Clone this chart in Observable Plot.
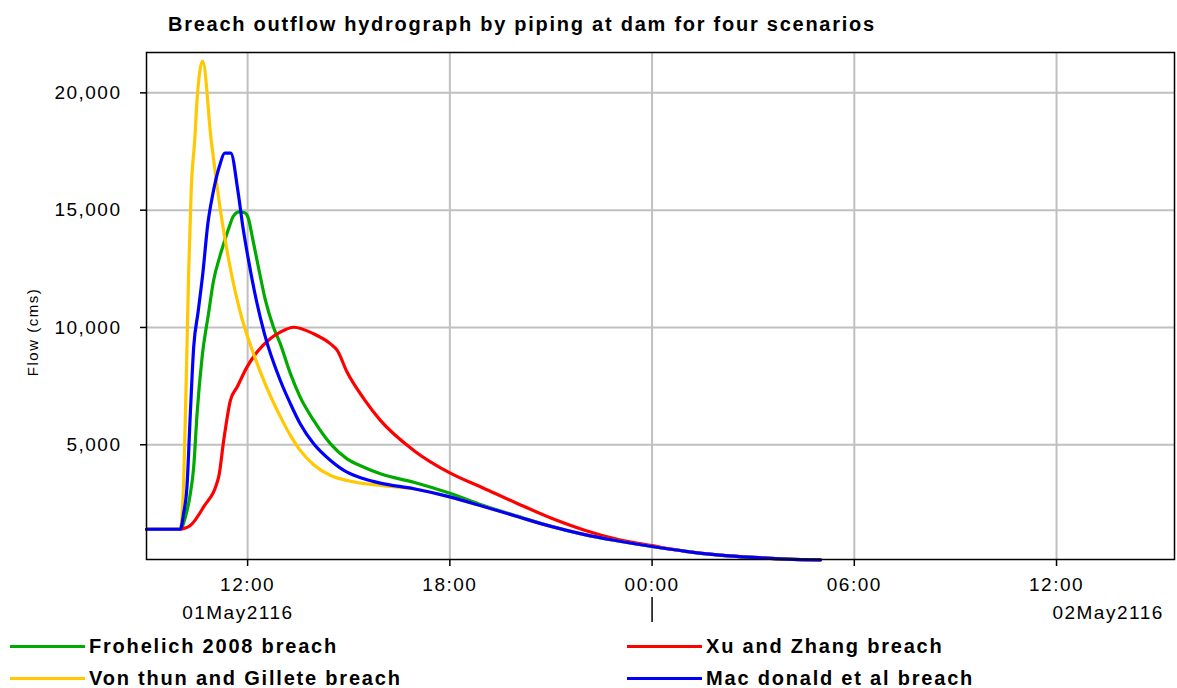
<!DOCTYPE html>
<html>
<head>
<meta charset="utf-8">
<script src="https://cdn.jsdelivr.net/npm/d3@7"></script>
<script src="https://cdn.jsdelivr.net/npm/@observablehq/plot@0.6"></script>
<style>
  html, body { margin: 0; padding: 0; background: #fff; }
  body { font-family: "Liberation Sans", Arial, sans-serif; color: #000; width: 1177px; height: 688px; overflow: hidden; }
  #title { position: relative; height: 44px; }
  #title span { position: absolute; left: 168px; top: 14px; font-weight: bold; font-size: 20px; line-height: 20px; letter-spacing: 1.75px; white-space: nowrap; }
  #chart svg { display: block; }
  #chart svg text { letter-spacing: 1.5px; }
  #legend { position: relative; height: 54px; }
  .item { position: absolute; }
  .item .swatch { position: absolute; width: 75px; height: 3px; }
  .item .lab { position: absolute; white-space: nowrap; font-weight: bold; font-size: 20px; line-height: 20px; letter-spacing: 1.8px; }
</style>
</head>
<body>
<div id="title"><span>Breach outflow hydrograph by piping at dam for four scenarios</span></div>
<div id="chart"></div>
<div id="legend"></div>
<script>
// ---- data (time in hours from 01May2116 00:00, flow in cms) ----
const seriesNames = ["Frohelich 2008 breach", "Xu and Zhang breach", "Von thun and Gillete breach", "Mac donald et al breach"];
const seriesColors = ["#00aa00", "#ff0000", "#ffc800", "#0000ff"];

const froehlichT = [9, 10, 10.15, 10.3, 10.4, 10.5, 10.65, 10.84, 10.99, 11.17, 11.32, 11.47, 11.57, 11.75, 11.9, 12.01, 12.16, 12.36, 12.53, 12.77, 12.97, 13.27, 13.56, 13.96, 14.46, 14.95, 15.45, 15.94, 16.93, 18, 19, 20, 21, 22, 23, 24, 25, 26, 27, 28, 29];
const froehlichQ = [1400, 1400, 1900, 2910, 4045, 6320, 8735, 10590, 12000, 13000, 13710, 14350, 14730, 14930, 14900, 14700, 13710, 12290, 11150, 10000, 9300, 8030, 7030, 6040, 5040, 4400, 4045, 3765, 3400, 2930, 2410, 1960, 1530, 1170, 900, 665, 460, 300, 200, 130, 98];

const xuZhangT = [9, 10, 10.15, 10.3, 10.69, 11.14, 11.29, 11.49, 11.69, 11.98, 12.28, 12.67, 12.97, 13.37, 13.96, 14.46, 14.66, 14.95, 15.45, 15.94, 16.93, 18, 19, 20, 21, 22, 23, 24, 25, 26, 27, 28, 29];
const xuZhangQ = [1400, 1400, 1450, 1560, 2340, 3620, 5180, 6890, 7460, 8310, 8950, 9520, 9800, 10010, 9730, 9300, 9020, 8100, 6960, 6040, 4760, 3800, 3150, 2500, 1880, 1360, 960, 700, 460, 300, 200, 130, 98];

const vonThunT = [9, 10, 10.08, 10.17, 10.25, 10.33, 10.43, 10.5, 10.667, 10.92, 11.07, 11.27, 11.52, 11.81, 12.0, 12.38, 12.67, 12.97, 13.27, 13.56, 13.96, 14.46, 14.95, 15.94, 16.93, 18, 19, 20, 21, 22, 23, 24, 25, 26, 27, 28, 29];
const vonThunQ = [1400, 1400, 2600, 7200, 12300, 16000, 17970, 19700, 21350, 17970, 16270, 14280, 12290, 10500, 9600, 8100, 7100, 6200, 5400, 4760, 4150, 3690, 3480, 3265, 3125, 2770, 2370, 1940, 1520, 1170, 900, 665, 460, 300, 200, 130, 98];

const macDonaldT = [9, 10, 10.1, 10.2, 10.3, 10.4, 10.53, 10.67, 10.82, 10.97, 11.17, 11.32, 11.5, 11.71, 11.86, 12.01, 12.26, 12.5, 12.97, 13.27, 13.56, 13.96, 14.46, 14.95, 15.45, 15.94, 16.93, 18, 19, 20, 21, 22, 23, 24, 25, 26, 27, 28, 29];
const macDonaldQ = [1400, 1400, 2060, 3190, 6320, 9160, 10650, 12290, 14420, 15700, 16900, 17430, 17430, 15840, 14280, 13000, 11150, 9730, 7740, 6750, 5895, 5040, 4330, 3830, 3550, 3365, 3125, 2780, 2370, 1940, 1520, 1170, 900, 665, 460, 300, 200, 130, 98];

const xTickHours = [12, 18, 24, 30, 36];
const yTickValues = [5000, 10000, 15000, 20000];
const dayLabels = ["01May2116", "02May2116"];
const dayLabelHours = [11.71, 37.53];
const dayBoundaryHours = [24];
const xDomainHours = [9, 39.5];
const yDomain = [110, 21720];

// ---- build ----
const base = Date.UTC(2116, 4, 1);
const toDate = h => new Date(base + h * 3600000);

const seriesT = [froehlichT, xuZhangT, vonThunT, macDonaldT];
const seriesQ = [froehlichQ, xuZhangQ, vonThunQ, macDonaldQ];
const drawOrder = [0, 1, 2, 3];
const rows = drawOrder.flatMap(k => seriesT[k].map((h, i) => ({name: seriesNames[k], time: toDate(h), flow: seriesQ[k][i]})));
const dayRows = dayLabels.map((d, i) => ({text: d, time: toDate(dayLabelHours[i])}));

const plot = Plot.plot({
  width: 1177,
  height: 590,
  marginTop: 8,
  marginBottom: 75,
  marginLeft: 146,
  marginRight: 3,
  style: {fontFamily: '"Liberation Sans", Arial, sans-serif', fontSize: "19px", color: "#000", background: "#fff", overflow: "visible"},
  x: {type: "utc", domain: xDomainHours.map(toDate)},
  y: {domain: yDomain},
  color: {domain: seriesNames, range: seriesColors},
  marks: [
    Plot.gridX(xTickHours.map(toDate), {stroke: "#c0c0c0", strokeOpacity: 1, strokeWidth: 2}),
    Plot.gridY(yTickValues, {stroke: "#c0c0c0", strokeOpacity: 1, strokeWidth: 2}),
    Plot.line(rows, {x: "time", y: "flow", z: "name", stroke: "name", strokeWidth: 3.2, curve: "monotone-x"}),
    Plot.frame({stroke: "#000", strokeWidth: 1.5}),
    Plot.axisX(xTickHours.map(toDate), {tickSize: 7, tickPadding: 11, strokeWidth: 1.5, tickFormat: d3.utcFormat("%H:%M"), label: null}),
    Plot.axisX(dayBoundaryHours.map(toDate), {tickSize: 25, strokeWidth: 1.5, tickFormat: () => "", dy: 38, label: null}),
    Plot.text(dayRows, {x: "time", text: "text", frameAnchor: "bottom", dy: 53, lineAnchor: "middle", fontSize: 19}),
    Plot.axisY(yTickValues, {tickSize: 6, tickPadding: 19, strokeWidth: 1.5, tickFormat: d3.format(","), label: null}),
    Plot.text(["Flow (cms)"], {frameAnchor: "left", textAnchor: "middle", rotate: -90, dx: -113, dy: 26, fontSize: 15})
  ]
});
document.getElementById("chart").appendChild(plot);

// ---- legend ----
const legend = document.getElementById("legend");
const legendPos = [[10, 89, 0], [627, 706, 0], [10, 89, 1], [627, 706, 1]];
const legendOrder = [0, 1, 2, 3];
legendOrder.forEach((k, j) => {
  const [lx, tx, row] = legendPos[j];
  const item = document.createElement("div");
  item.className = "item";
  item.style.left = "0px";
  item.style.top = (row * 32) + "px";
  const sw = document.createElement("div");
  sw.className = "swatch";
  sw.style.left = lx + "px";
  sw.style.top = "11px";
  sw.style.background = seriesColors[k];
  const lab = document.createElement("div");
  lab.className = "lab";
  lab.style.left = tx + "px";
  lab.style.top = "2px";
  lab.textContent = seriesNames[k];
  item.appendChild(sw);
  item.appendChild(lab);
  legend.appendChild(item);
});
</script>
</body>
</html>
